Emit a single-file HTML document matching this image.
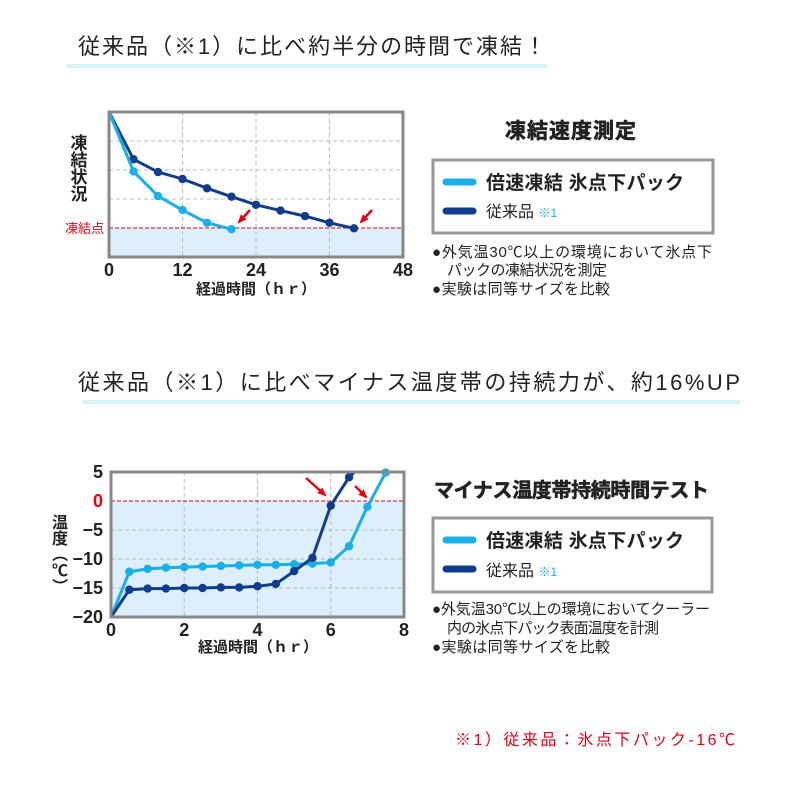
<!DOCTYPE html>
<html><head><meta charset="utf-8"><style>
body{margin:0;background:#fff;}
svg{display:block;font-family:"Liberation Sans","Noto Sans CJK JP",sans-serif;}
</style></head><body>
<svg id="s" width="800" height="800" viewBox="0 0 800 800">
<text x="78" y="54" font-size="22" fill="#222" textLength="468">従来品（※1）に比べ約半分の時間で凍結！</text>
<rect x="67" y="64" width="480" height="4" fill="#d3f4fb"/>
<text x="78" y="390" font-size="22" fill="#222" textLength="662">従来品（※1）に比べマイナス温度帯の持続力が、約16%UP</text>
<rect x="83" y="400" width="657" height="4" fill="#d3f4fb"/>

<g id="c1"></g>
<g id="c2"></g>

<text x="505" y="138" font-size="21" font-weight="bold" fill="#222" textLength="131" stroke="#222" stroke-width="0.6">凍結速度測定</text>
<rect x="433" y="160" width="280" height="73" fill="none" stroke="#999" stroke-width="3"/>
<line x1="446" y1="182" x2="473" y2="182" stroke="#1aafe6" stroke-width="7" stroke-linecap="round"/>
<text x="486" y="189" font-size="19" font-weight="bold" fill="#222" textLength="198">倍速凍結 氷点下パック</text>
<line x1="446" y1="211" x2="473" y2="211" stroke="#0f3c8c" stroke-width="7" stroke-linecap="round"/>
<text x="486" y="217" font-size="16" fill="#222">従来品 <tspan font-size="12" fill="#1aafe6">※1</tspan></text>
<g font-size="15" fill="#222">
<text x="432" y="257" textLength="280">●外気温30℃以上の環境において氷点下</text>
<text x="447" y="275" textLength="160">パックの凍結状況を測定</text>
<text x="432" y="294" textLength="178">●実験は同等サイズを比較</text>
</g>

<text x="434" y="497" font-size="20" font-weight="bold" fill="#222" textLength="275" stroke="#222" stroke-width="0.6">マイナス温度帯持続時間テスト</text>
<rect x="433" y="518" width="279" height="74" fill="none" stroke="#999" stroke-width="3"/>
<line x1="446" y1="540" x2="473" y2="540" stroke="#1aafe6" stroke-width="7" stroke-linecap="round"/>
<text x="486" y="547" font-size="19" font-weight="bold" fill="#222" textLength="198">倍速凍結 氷点下パック</text>
<line x1="446" y1="569" x2="473" y2="569" stroke="#0f3c8c" stroke-width="7" stroke-linecap="round"/>
<text x="486" y="576" font-size="16" fill="#222">従来品 <tspan font-size="12" fill="#1aafe6">※1</tspan></text>
<g font-size="15" fill="#222">
<text x="432" y="614" textLength="278">●外気温30℃以上の環境においてクーラー</text>
<text x="447" y="633" textLength="212">内の氷点下パック表面温度を計測</text>
<text x="432" y="652" textLength="178">●実験は同等サイズを比較</text>
</g>
<text x="455" y="745" font-size="16" fill="#e60012" textLength="280">※1）従来品：氷点下パック-16℃</text>
</svg>
<script>
// Chart 1 data
const c1Hours=[0,4,8,12,16,20,24,28,32,36,40];
const c1Old=[5,3.37,2.93,2.69,2.37,2.08,1.80,1.60,1.41,1.18,0.99];
const c1FastHours=[0,4,8,12,16,20];
const c1Fast=[5,2.95,2.10,1.62,1.18,0.96];
const c1Ticks=[0,12,24,36,48];
// Chart 2 data
const c2Hours=[0,0.5,1,1.5,2,2.5,3,3.5,4,4.5,5,5.5,6,6.5,7,7.5];
const c2Fast=[-20,-12.2,-11.7,-11.5,-11.4,-11.3,-11.2,-11.1,-11.0,-11.0,-10.9,-10.8,-10.6,-7.8,-1.0,4.9];
const c2OldHours=[0,0.5,1,1.5,2,2.5,3,3.5,4,4.5,5,5.5,6,6.5];
const c2Old=[-20,-15.3,-15.1,-15.1,-15.0,-15.0,-14.9,-14.9,-14.7,-14.3,-12.1,-9.8,-0.8,4.1];
const c2XTicks=[0,2,4,6,8];
const c2YTicks=[5,0,-5,-10,-15,-20];

const NS="http://www.w3.org/2000/svg";
function mk(p,tag,a){const e=document.createElementNS(NS,tag);for(const k in a)e.setAttribute(k,a[k]);p.appendChild(e);return e;}

function drawSeries(g,xs,ys,X,Y,color,name,extend){
  let pts=xs.map((x,i)=>X(x)+","+Y(ys[i]));
  if(extend)pts.push(extend);
  const pl=mk(g,"polyline",{points:pts.join(" "),fill:"none",stroke:color,"stroke-width":3});
  
  
  xs.forEach((x,i)=>{if(i===0)return;
    const c=mk(g,"circle",{cx:X(x),cy:Y(ys[i]),r:4.2,fill:color});
    
    
  });
}
function arrow(g,x1,y1,x2,y2){
  const a=mk(g,"line",{x1:x1,y1:y1,x2:x2,y2:y2,stroke:"#e60012","stroke-width":2.5});
  
  
  const ang=Math.atan2(y2-y1,x2-x1),L=8;
  const p=[[x2+Math.cos(ang)*2,y2+Math.sin(ang)*2],[x2-L*Math.cos(ang-0.5),y2-L*Math.sin(ang-0.5)],[x2-L*Math.cos(ang+0.5),y2-L*Math.sin(ang+0.5)]];
  const h=mk(g,"polygon",{points:p.map(q=>q.join(",")).join(" "),fill:"#e60012"});
  
  
}

// Chart 1
(function(){
  const g=document.getElementById("c1");
  const L=109,R=403,T=112,B=257;
  const X=h=>L+(h/48)*(R-L), Y=v=>B-(v/5)*(B-T);
  const bg=mk(g,"rect",{x:L,y:Y(1),width:R-L,height:B-Y(1),fill:"#ddeffa"});
  
  
  [2,3,4].forEach(v=>{const l=mk(g,"line",{x1:L,x2:R,y1:Y(v),y2:Y(v),stroke:"#bbb","stroke-dasharray":"4,3"});
    
    });
  c1Ticks.slice(1,-1).forEach(t=>{const l=mk(g,"line",{x1:X(t),x2:X(t),y1:T,y2:B,stroke:"#bbb","stroke-dasharray":"4,3"});
    
    });
  const fl=mk(g,"line",{x1:L,x2:R,y1:Y(1),y2:Y(1),stroke:"#e60012","stroke-dasharray":"4,2"});
  
  
  drawSeries(g,c1Hours,c1Old,X,Y,"#0f3c8c","old-product");
  drawSeries(g,c1FastHours,c1Fast,X,Y,"#1aafe6","fast-freeze");
  const fr=mk(g,"rect",{x:L,y:T,width:R-L,height:B-T,fill:"none",stroke:"#888","stroke-width":3});
  
  
  c1Ticks.forEach(t=>{const tx=mk(g,"text",{x:X(t),y:276,"font-size":18,"font-weight":"bold","text-anchor":"middle",fill:"#222"});tx.textContent=t;
    
    });
  const xt=mk(g,"text",{x:256,y:294,"font-size":15,"font-weight":"bold","text-anchor":"middle",fill:"#222"});xt.textContent="経過時間（ｈｒ）";
  
  
  ["凍","結","状","況"].forEach((c,i)=>{const t=mk(g,"text",{x:79,y:149+i*17,"font-size":17,"font-weight":"bold","text-anchor":"middle",fill:"#222"});t.textContent=c;
    
    });
  const fp=mk(g,"text",{x:104,y:233,"font-size":13,"text-anchor":"end",fill:"#e60012"});fp.textContent="凍結点";
  
  
  arrow(g,250,210,239,222);
  arrow(g,372,210,361,222);
})();

// Chart 2
(function(){
  const g=document.getElementById("c2");
  const L=111,R=404,T=472,B=617;
  const X=h=>L+(h/8)*(R-L), Y=v=>T+((5-v)/25)*(B-T);
  const bg=mk(g,"rect",{x:L,y:Y(0),width:R-L,height:B-Y(0),fill:"#ddeffa"});
  
  
  c2YTicks.slice(2,-1).forEach(v=>{const l=mk(g,"line",{x1:L,x2:R,y1:Y(v),y2:Y(v),stroke:"#bbb","stroke-dasharray":"4,3"});
    
    });
  c2XTicks.slice(1,-1).forEach(t=>{const l=mk(g,"line",{x1:X(t),x2:X(t),y1:T,y2:B,stroke:"#bbb","stroke-dasharray":"4,3"});
    
    });
  const zl=mk(g,"line",{x1:L,x2:R,y1:Y(0),y2:Y(0),stroke:"#e60012","stroke-dasharray":"4,2"});
  
  
  drawSeries(g,c2Hours,c2Fast,X,Y,"#1aafe6","fast-freeze");
  const n=c2OldHours.length;
  const ex=X(c2OldHours[n-1]+0.15)+","+Y(5);
  drawSeries(g,c2OldHours,c2Old,X,Y,"#0f3c8c","old-product",ex);
  const fr=mk(g,"rect",{x:L,y:T,width:R-L,height:B-T,fill:"none",stroke:"#888","stroke-width":3});
  
  
  c2XTicks.forEach(t=>{const tx=mk(g,"text",{x:X(t),y:636,"font-size":18,"font-weight":"bold","text-anchor":"middle",fill:"#222"});tx.textContent=t;
    
    });
  c2YTicks.forEach(v=>{const tx=mk(g,"text",{x:103,y:Y(v)+6,"font-size":18,"font-weight":"bold","text-anchor":"end",fill:v===0?"#e60012":"#222"});tx.textContent=v<0?"−"+(-v):v;
    
    });
  const xt=mk(g,"text",{x:258,y:652,"font-size":15,"font-weight":"bold","text-anchor":"middle",fill:"#222"});xt.textContent="経過時間（ｈｒ）";
  
  
  ["温","度","（","℃","）"].forEach((c,i)=>{const t=mk(g,"text",{x:60,y:528+i*16,"font-size":16,"font-weight":"bold","text-anchor":"middle",fill:"#222"});
    if(c==="（"||c==="）"){t.setAttribute("transform","rotate(90 60 "+(522+i*16)+")");}
    t.textContent=c;
    
    });
  arrow(g,306,478,325,495);
  arrow(g,355,486,366,497);
})();
</script>
</body></html>
